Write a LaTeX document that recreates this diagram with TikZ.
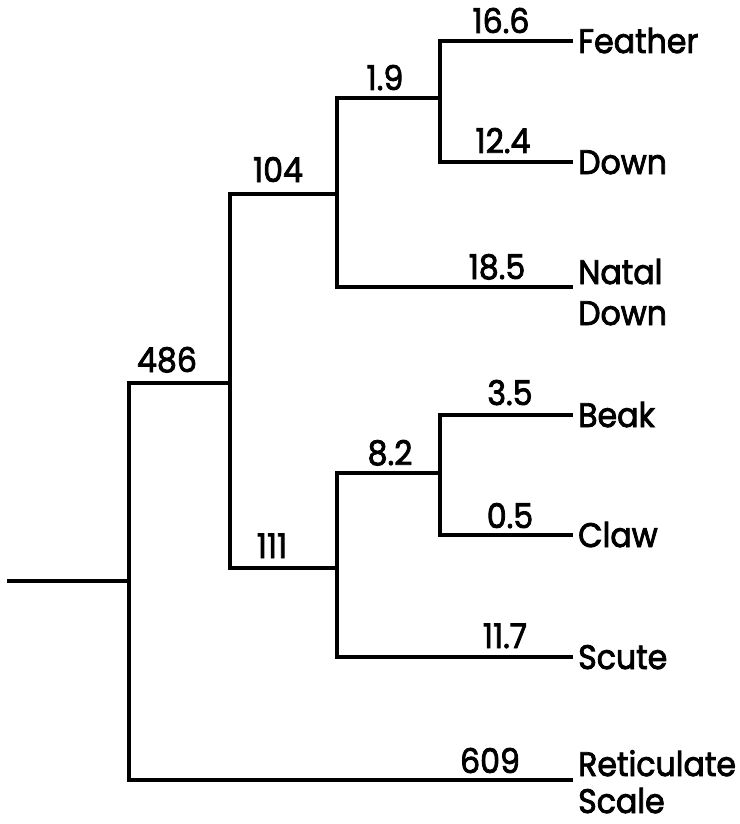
\documentclass[tikz,border=0pt]{standalone}
\usepackage{fontspec}
\usepackage{graphicx}
\setmainfont{Poppins}
\newfontfamily\labfont{Poppins}[FakeBold=2.5]
\newcommand{\lab}[1]{\scalebox{0.93}[1]{#1}}
\begin{document}
\begin{tikzpicture}[x=1pt,y=-1pt,
  branch/.style={line width=3.2pt,line cap=rect},
  num/.style={anchor=base,inner sep=0pt,font=\fontsize{34}{41}\labfont},
  leaf/.style={anchor=base west,inner sep=0pt,font=\fontsize{34}{41}\labfont}]
\useasboundingbox (0,0) rectangle (739,824);
% junction coordinates
\coordinate (r0) at (9,581);
\coordinate (r) at (129,581);
\coordinate (a0) at (129,383);
\coordinate (a) at (230,383);
\coordinate (ret0) at (129,780);
\coordinate (ret) at (571,780);
\coordinate (b0) at (230,194);
\coordinate (b) at (337,194);
\coordinate (c0) at (230,568);
\coordinate (c) at (337,568);
\coordinate (d0) at (337,98);
\coordinate (d) at (440,98);
\coordinate (nat0) at (337,287);
\coordinate (nat) at (571,287);
\coordinate (fe0) at (440,41);
\coordinate (fe) at (571,41);
\coordinate (dn0) at (440,162);
\coordinate (dn) at (571,162);
\coordinate (e0) at (337,473);
\coordinate (e) at (440,473);
\coordinate (sc0) at (337,657);
\coordinate (sc) at (571,657);
\coordinate (bk0) at (440,415);
\coordinate (bk) at (571,415);
\coordinate (cl0) at (440,535);
\coordinate (cl) at (571,535);
% branches
\draw[branch] (r0) -- (r);
\draw[branch] (ret) -- (ret0) -- (a0) -- (a);
\draw[branch] (c) -- (c0) -- (b0) -- (b);
\draw[branch] (nat) -- (nat0) -- (d0) -- (d);
\draw[branch] (fe) -- (fe0) -- (dn0) -- (dn);
\draw[branch] (sc) -- (sc0) -- (e0) -- (e);
\draw[branch] (bk) -- (bk0) -- (cl0) -- (cl);
% branch lengths
\node[num] (l166) at (501,33) {\lab{16.6}};
\node[num] (l124) at (503,153) {\lab{12.4}};
\node[num] (l19) at (385,90) {\lab{1.9}};
\node[num] (l104) at (278,182) {\lab{104}};
\node[num] (l185) at (497,279) {\lab{18.5}};
\node[num] (l486) at (167,372) {\lab{486}};
\node[num] (l35) at (510,405) {\lab{3.5}};
\node[num] (l82) at (390,465) {\lab{8.2}};
\node[num] (l05) at (510,528) {\lab{0.5}};
\node[num] (l111) at (272,558) {\lab{111}};
\node[num] (l117) at (505,648) {\lab{11.7}};
\node[num] (l609) at (490,773) {\lab{609}};
% leaf names
\node[leaf] (tfe) at (578,53) {\lab{Feather}};
\node[leaf] (tdn) at (578,174) {\lab{Down}};
\node[leaf] (tnat) at (578,284) {\lab{\begin{tabular}[t]{@{}l@{}}Natal\\Down\end{tabular}}};
\node[leaf] (tbk) at (578,427) {\lab{Beak}};
\node[leaf] (tcl) at (578,547) {\lab{Claw}};
\node[leaf] (tsc) at (578,669) {\lab{Scute}};
\node[leaf] (tret) at (578,776) {\lab{\begin{tabular}[t]{@{}l@{}}Reticulate\\[-4pt]Scale\end{tabular}}};
\end{tikzpicture}
\end{document}
